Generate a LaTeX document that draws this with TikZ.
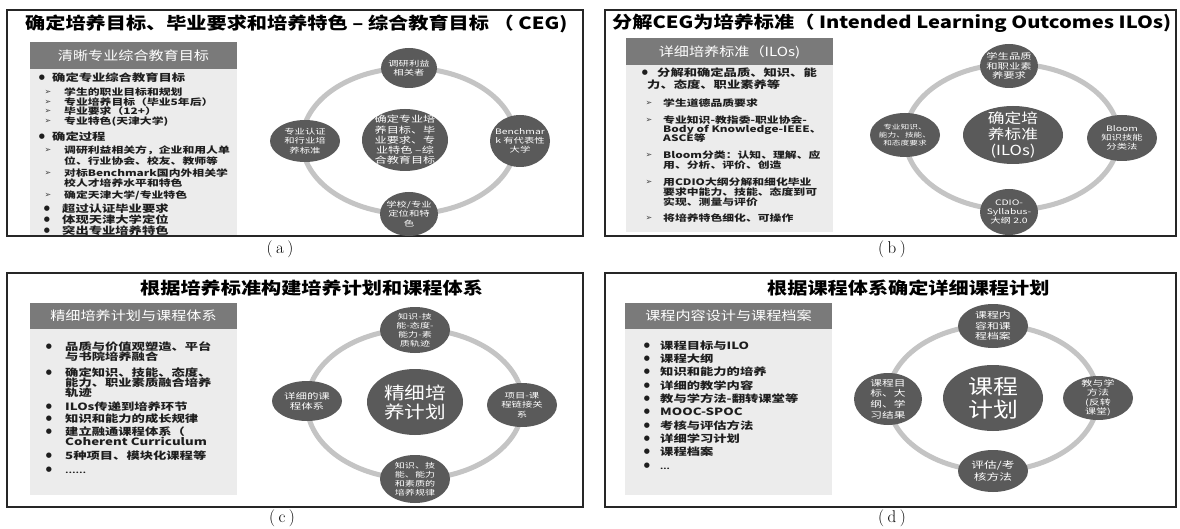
\documentclass[tikz,border=0pt]{standalone}
\usepackage{fontspec}
\usetikzlibrary{shapes.geometric}
\newfontfamily\cjk[FakeStretch=1.2]{Noto Sans CJK SC}
\newfontfamily\cjkl[FakeStretch=1.33]{Noto Sans CJK SC}
\newfontfamily\cjks[FakeStretch=1.38]{Noto Sans CJK SC}
\newfontfamily\dvs{DejaVu Sans}
\newcommand\fsz[2]{\fontsize{#1}{#2}\selectfont}
\definecolor{hdr}{HTML}{7A7A7A}
\definecolor{bodyg}{HTML}{ECECEC}
\definecolor{circ}{HTML}{5A5A5A}
\definecolor{ringc}{HTML}{C4C4C4}
\definecolor{txt}{HTML}{1E1E1E}
\tikzset{
  panelbox/.style={draw=black!85, line width=1.2pt},
  ttl/.style={anchor=base west, yshift=-6.2pt, inner sep=0, text=black, font=\cjk\bfseries\fsz{16.8}{18}},
  hdrtxt/.style={anchor=base, yshift=-4.6pt, inner sep=0, text=white, font=\cjk\fsz{12.6}{14}},
  la/.style={anchor=base west, yshift=-3.8pt, inner sep=0, text=txt, font=\cjkl\bfseries\fsz{10}{11}},
  lb/.style={anchor=base west, yshift=-3.4pt, inner sep=0, text=txt, font=\cjkl\bfseries\fsz{8.9}{10}},
  blt/.style={inner sep=0, text=txt, font=\dvs\fsz{7}{7}},
  arw/.style={inner sep=0, text=txt!85, font=\dvs\fsz{8}{8}},
  ringo/.style={ellipse, draw=ringc, line width=5pt, inner sep=0},
  sat/.style={ellipse, fill=circ, inner sep=0},
  st/.style={text=white, align=center, inner sep=0, font=\cjks\fsz{7.5}{9.3}},
  captxt/.style={inner sep=0, text=black, font=\fsz{17}{17}}
}
\begin{document}
\begin{tikzpicture}[x=1pt, y=-1pt]
\useasboundingbox (0,0) rectangle (1180,529);
\fill[white] (0,0) rectangle (1180,529);

%% ================= Panel (a)
\draw[panelbox] (7,10) rectangle (583,236);
\node[ttl] (aT) at (25,23) {确定培养目标、毕业要求和培养特色 – 综合教育目标 （ CEG)};
\fill[bodyg] (30,69) rectangle (237,235);
\fill[hdr] (30,42) rectangle (237,69);
\node[hdrtxt] (aH) at (133.5,55.5) {清晰专业综合教育目标};
\node[blt] (ab1) at (42,78) {●};  \node[la] (al1) at (52,78) {确定专业综合教育目标};
\node[arw] (aa1) at (48,92) {➢};  \node[lb] (al2) at (64,92) {学生的职业目标和规划};
\node[arw] (aa2) at (48,102) {➢}; \node[lb] (al3) at (64,102) {专业培养目标（毕业5年后）};
\node[arw] (aa3) at (48,111) {➢}; \node[lb] (al4) at (64,111) {毕业要求（12+）};
\node[arw] (aa4) at (48,121) {➢}; \node[lb] (al5) at (64,121) {专业特色(天津大学)};
\node[blt] (ab2) at (42,137) {●}; \node[la] (al6) at (52,137) {确定过程};
\node[arw] (aa5) at (48,150) {➢}; \node[lb] (al7) at (64,150) {调研利益相关方，企业和用人单};
\node[lb] (al8) at (64,161) {位、行业协会、校友、教师等};
\node[arw] (aa6) at (48,173) {➢}; \node[lb] (al9) at (64,173) {对标Benchmark国内外相关学};
\node[lb] (al10) at (64,183) {校人才培养水平和特色};
\node[arw] (aa7) at (48,195) {➢}; \node[lb] (al11) at (64,195) {确定天津大学/专业特色};
\node[blt] (ab3) at (47,209) {●}; \node[la] (al12) at (62,209) {超过认证毕业要求};
\node[blt] (ab4) at (47,220) {●}; \node[la] (al13) at (62,220) {体现天津大学定位};
\node[blt] (ab5) at (47,231) {●}; \node[la] (al14) at (62,231) {突出专业培养特色};

\node[ringo, minimum width=214pt, minimum height=146pt] (aR) at (409,141) {};
\node[sat, minimum width=86pt, minimum height=62pt,
  label={[st, font=\cjks\fsz{8.8}{10.2}]center:{确定专业培\\养目标、毕\\业要求、专\\业特色 –综\\合教育目标}}] (aC) at (405,140) {};
\node[sat, minimum width=56pt, minimum height=40pt,
  label={[st]center:{调研利益\\相关者}}] (aN) at (409,68) {};
\node[sat, minimum width=60pt, minimum height=52pt,
  label={[st]center:{Benchmar\\k 有代表性\\大学}}] (aE) at (520,141) {};
\node[sat, minimum width=58pt, minimum height=44pt,
  label={[st]center:{学校/专业\\定位和特\\色}}] (aS) at (409,214) {};
\node[sat, minimum width=70pt, minimum height=42pt,
  label={[st]center:{专业认证\\和行业培\\养标准}}] (aW) at (305,141) {};
\node[captxt] (aL) at (280,249) {(\kern3.5pt a\kern3.5pt)};

%% ================= Panel (b)
\draw[panelbox] (605,10) rectangle (1176,236);
\node[ttl] (bT) at (612,22) {分解CEG为培养标准（ Intended Learning Outcomes ILOs)};
\fill[bodyg] (626,65) rectangle (833,232);
\fill[hdr] (626,38) rectangle (833,65);
\node[hdrtxt] (bH) at (729.5,51.5) {详细培养标准（ILOs)};
\node[blt] (bb1) at (645,73) {●}; \node[la] (bl1) at (657,73) {分解和确定品质、知识、能};
\node[la] (bl2) at (647,85) {力、态度、职业素养等};
\node[arw] (ba1) at (649,103) {➢}; \node[lb] (bl3) at (663,103) {学生道德品质要求};
\node[arw] (ba2) at (649,120) {➢}; \node[lb] (bl4) at (663,120) {专业知识-教指委-职业协会-};
\node[lb] (bl5) at (663,129) {Body of Knowledge-IEEE、};
\node[lb] (bl6) at (663,138) {ASCE等};
\node[arw] (ba3) at (649,155) {➢}; \node[lb] (bl7) at (663,155) {Bloom分类：认知、理解、应};
\node[lb] (bl8) at (663,165) {用、分析、评价、创造};
\node[arw] (ba4) at (649,182) {➢}; \node[lb] (bl9) at (663,182) {用CDIO大纲分解和细化毕业};
\node[lb] (bl10) at (663,192) {要求中能力、技能、态度到可};
\node[lb] (bl11) at (663,202) {实现、测量与评价};
\node[arw] (ba5) at (649,218) {➢}; \node[lb] (bl12) at (663,218) {将培养特色细化、可操作};

\node[ringo, minimum width=214pt, minimum height=146pt] (bR) at (1012,137) {};
\node[sat, minimum width=100pt, minimum height=58pt,
  label={[st, font=\cjk\fsz{13.9}{16}]center:{确定培\\养标准\\(ILOs)}}] (bC) at (1013,135) {};
\node[sat, minimum width=58pt, minimum height=44pt,
  label={[st, font=\cjks\fsz{8.2}{9.8}]center:{学生品质\\和职业素\\养要求}}] (bN) at (1009,66) {};
\node[sat, minimum width=70pt, minimum height=46pt,
  label={[st]center:{Bloom\\知识技能\\分类法}}] (bE) at (1122,138) {};
\node[sat, minimum width=58pt, minimum height=46pt,
  label={[st]center:{CDIO-\\Syllabus-\\大纲 2.0}}] (bS) at (1009,212) {};
\node[sat, minimum width=70pt, minimum height=44pt,
  label={[st, font=\cjks\fsz{6.3}{8}]center:{专业知识、\\能力、技能、\\和态度要求}}] (bW) at (905,135) {};
\node[captxt] (bL) at (892,249) {(\kern3.5pt b\kern3.5pt)};

%% ================= Panel (c)
\draw[panelbox] (7,273) rectangle (583,507);
\node[ttl] (cT) at (140,288) {根据培养标准构建培养计划和课程体系};
\fill[bodyg] (30,329) rectangle (237,495);
\fill[hdr] (30,303) rectangle (237,329);
\node[hdrtxt] (cH) at (133.5,316) {精细培养计划与课程体系};
\node[blt] (cb1) at (49,347) {●}; \node[la] (cl1) at (65,347) {品质与价值观塑造、平台};
\node[la] (cl2) at (65,357) {与书院培养融合};
\node[blt] (cb2) at (49,373) {●}; \node[la] (cl3) at (65,373) {确定知识、技能、态度、};
\node[la] (cl4) at (65,383) {能力、职业素质融合培养};
\node[la] (cl5) at (65,393) {轨迹};
\node[blt] (cb3) at (49,407) {●}; \node[la] (cl6) at (65,407) {ILOs传递到培养环节};
\node[blt] (cb4) at (49,419) {●}; \node[la] (cl7) at (65,419) {知识和能力的成长规律};
\node[blt] (cb5) at (49,432) {●}; \node[la] (cl8) at (65,432) {建立融通课程体系（};
\node[la] (cl9) at (65,442) {Coherent Curriculum};
\node[blt] (cb6) at (49,456) {●}; \node[la] (cl10) at (65,456) {5种项目、模块化课程等};
\node[blt] (cb7) at (49,470) {●}; \node[la] (cl11) at (65,470) {\fsz{7}{7}……};

\node[ringo, minimum width=216pt, minimum height=150pt] (cR) at (415,404) {};
\node[sat, minimum width=96pt, minimum height=66pt,
  label={[st, font=\cjk\fsz{17.2}{19}]center:{精细培\\养计划}}] (cC) at (415,402) {};
\node[sat, minimum width=70pt, minimum height=46pt,
  label={[st, font=\cjks\fsz{7.3}{9}]center:{知识-技\\能-态度-\\能力-素\\质轨迹}}] (cN) at (415,330) {};
\node[sat, minimum width=70pt, minimum height=44pt,
  label={[st]center:{项目-课\\程链接关\\系}}] (cE) at (522,405) {};
\node[sat, minimum width=70pt, minimum height=48pt,
  label={[st, font=\cjks\fsz{7.3}{9}]center:{知识、技\\能、能力\\和素质的\\培养规律}}] (cS) at (415,479) {};
\node[sat, minimum width=70pt, minimum height=40pt,
  label={[st, font=\cjks\fsz{8.3}{10}]center:{详细的课\\程体系}}] (cW) at (307,401) {};
\node[captxt] (cL) at (282,518) {(\kern3.5pt c\kern3.5pt)};

%% ================= Panel (d)
\draw[panelbox] (605,273) rectangle (1176,507);
\node[ttl] (dT) at (767,288) {根据课程体系确定详细课程计划};
\fill[bodyg] (625,329) rectangle (832,495);
\fill[hdr] (625,303) rectangle (832,329);
\node[hdrtxt] (dH) at (728.5,316) {课程内容设计与课程档案};
\node[blt] (db1) at (647,346) {●}; \node[la] (dl1) at (660,346) {课程目标与ILO};
\node[blt] (db2) at (647,359) {●}; \node[la] (dl2) at (660,359) {课程大纲};
\node[blt] (db3) at (647,372) {●}; \node[la] (dl3) at (660,372) {知识和能力的培养};
\node[blt] (db4) at (647,386) {●}; \node[la] (dl4) at (660,386) {详细的教学内容};
\node[blt] (db5) at (647,399) {●}; \node[la] (dl5) at (660,399) {教与学方法-翻转课堂等};
\node[blt] (db6) at (647,412) {●}; \node[la] (dl6) at (660,412) {MOOC-SPOC};
\node[blt] (db7) at (647,426) {●}; \node[la] (dl7) at (660,426) {考核与评估方法};
\node[blt] (db8) at (647,439) {●}; \node[la] (dl8) at (660,439) {详细学习计划};
\node[blt] (db9) at (647,452) {●}; \node[la] (dl9) at (660,452) {课程档案};
\node[blt] (db10) at (647,466) {●}; \node[la] (dl10) at (660,466) {\fsz{7}{7}...};

\node[ringo, minimum width=210pt, minimum height=146pt] (dR) at (993,398) {};
\node[sat, minimum width=100pt, minimum height=66pt,
  label={[st, font=\cjk\fsz{20.8}{23}]center:{课程\\计划}}] (dC) at (993,398) {};
\node[sat, minimum width=70pt, minimum height=44pt,
  label={[st, font=\cjks\fsz{8.6}{10.3}]center:{课程内\\容和课\\程档案}}] (dN) at (993,326) {};
\node[sat, minimum width=70pt, minimum height=44pt,
  label={[st, font=\cjks\fsz{8}{9.3}]center:{教与学\\方法\\(反转\\课堂)}}] (dE) at (1098,398) {};
\node[sat, minimum width=70pt, minimum height=42pt,
  label={[st, font=\cjks\fsz{9.2}{11.5}]center:{评估/考\\核方法}}] (dS) at (993,471) {};
\node[sat, minimum width=68pt, minimum height=52pt,
  label={[st, font=\cjks\fsz{8.5}{10.6}]center:{课程目\\标、大\\纲、学\\习结果}}] (dW) at (888,399) {};
\node[captxt] (dL) at (892,518) {(\kern3.5pt d\kern3.5pt)};
\end{tikzpicture}
\end{document}
